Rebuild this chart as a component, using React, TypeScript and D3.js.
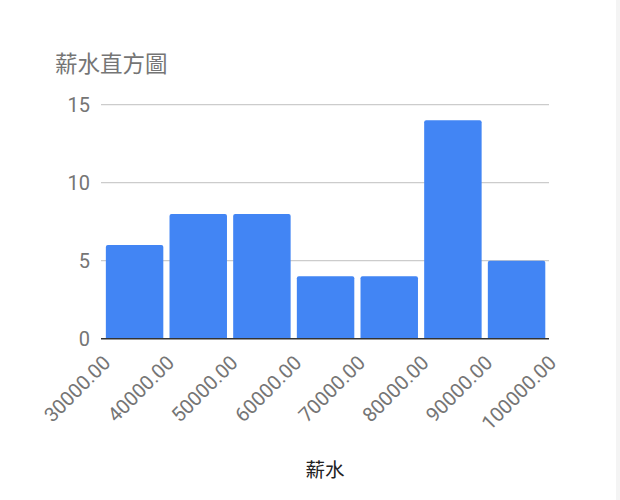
import React from "react";
import * as d3 from "d3";

const title = "薪水直方圖";
const xTitle = "薪水";
const binStarts = [30000, 40000, 50000, 60000, 70000, 80000, 90000];
const binSize = 10000;
const counts = [6, 8, 8, 4, 4, 14, 5];
const xTicks = [30000, 40000, 50000, 60000, 70000, 80000, 90000, 100000];
const yTicks = [0, 5, 10, 15];

const W = 620;
const H = 500;

export default function App() {
  const x = d3.scaleLinear().domain([30000, 100000]).range([102.75, 548.4]);
  const y = d3.scaleLinear().domain([0, 15]).range([338.7, 104.7]);
  const fmt = d3.format(".2f");
  const inset = 3.1;
  const font = "Roboto, 'Noto Sans CJK TC', sans-serif";

  const barPath = (x0: number, x1: number, v: number) => {
    const top = y(v);
    const bottom = y(0);
    const r = 2;
    const p = d3.path();
    p.moveTo(x0, bottom);
    p.lineTo(x0, top + r);
    p.quadraticCurveTo(x0, top, x0 + r, top);
    p.lineTo(x1 - r, top);
    p.quadraticCurveTo(x1, top, x1, top + r);
    p.lineTo(x1, bottom);
    p.closePath();
    return p.toString();
  };

  return (
    <svg
      width={W}
      height={H}
      style={{ position: "absolute", left: 0, top: 0, display: "block" }}
      fontFamily={font}
    >
      <rect x={0} y={0} width={W} height={H} fill="#ffffff" />
      <rect x={616} y={0} width={4} height={H} fill="#f4f4f4" />
      <text x={55} y={72} fontSize={22.5} fill="#757575" fontFamily="'Noto Sans CJK TC', sans-serif">
        {title}
      </text>
      {yTicks.map((t) => (
        <g key={t}>
          {t !== 0 && (
            <line x1={101} x2={549} y1={y(t)} y2={y(t)} stroke="#cccccc" strokeWidth={1.3} />
          )}
          <text
            x={90}
            y={y(t)}
            dy="0.36em"
            textAnchor="end"
            fontSize={20}
            fill="#757575"
          >
            {t}
          </text>
        </g>
      ))}
      {binStarts.map((s, i) => (
        <path
          key={s}
          d={barPath(x(s) + inset, x(s + binSize) - inset, counts[i])}
          fill="#4285f4"
        />
      ))}
      <line x1={101} x2={549} y1={y(0)} y2={y(0)} stroke="#333333" strokeWidth={1.5} />
      {xTicks.map((t) => (
        <text
          key={t}
          transform={`translate(${x(t) + 9},${364}) rotate(-45)`}
          textAnchor="end"
          fontSize={20}
          fill="#757575"
        >
          {fmt(t)}
        </text>
      ))}
      <text
        x={(101 + 549) / 2}
        y={477}
        textAnchor="middle"
        fontSize={19.5}
        fill="#222222"
        fontFamily="'Noto Sans CJK TC', sans-serif"
      >
        {xTitle}
      </text>
    </svg>
  );
}
